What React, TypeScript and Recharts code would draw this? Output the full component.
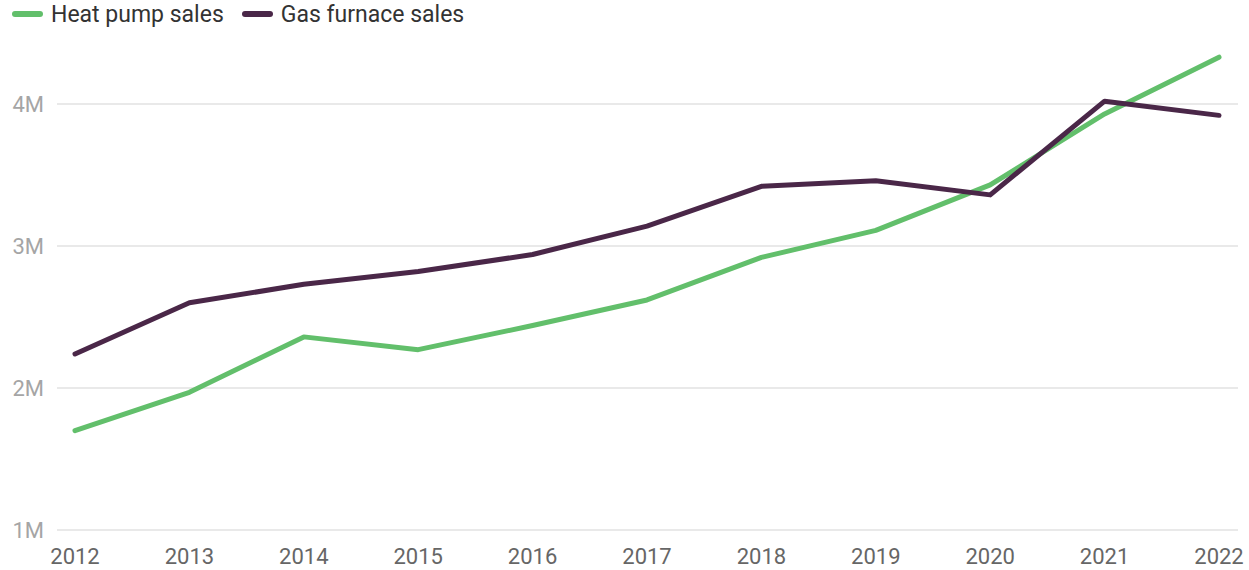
import React from "react";
import { LineChart, Line, XAxis, YAxis, ReferenceLine } from "recharts";

const years = ["2012", "2013", "2014", "2015", "2016", "2017", "2018", "2019", "2020", "2021", "2022"];
const heatPump = [1700000, 1970000, 2360000, 2270000, 2440000, 2620000, 2920000, 3110000, 3430000, 3930000, 4330000];
const gasFurnace = [2240000, 2600000, 2730000, 2820000, 2940000, 3140000, 3420000, 3460000, 3360000, 4020000, 3920000];
const yTicks = [1000000, 2000000, 3000000, 4000000];

const GREEN = "#62bf6b";
const PURPLE = "#4a2748";

const data = years.map((y, i) => ({ year: y, heat: heatPump[i], gas: gasFurnace[i] }));

const fmt = (v: number) => `${v / 1000000}M`;

export default function App() {
  return (
    <div style={{ position: "absolute", left: 0, top: 0, width: 1249, height: 570, background: "#fff", fontFamily: "Roboto, sans-serif" }}>
      <div style={{ position: "absolute", left: 0, top: 0, height: 28, display: "flex", alignItems: "center", fontSize: 23, color: "#333", whiteSpace: "nowrap" }}>
        <span style={{ display: "inline-block", width: 31, height: 6, borderRadius: 3, background: GREEN, marginLeft: 12, marginRight: 8 }} />
        <span>Heat pump sales</span>
        <span style={{ display: "inline-block", width: 31, height: 6, borderRadius: 3, background: PURPLE, marginLeft: 18, marginRight: 8 }} />
        <span>Gas furnace sales</span>
      </div>
      <LineChart width={1249} height={570} data={data} margin={{ top: 33, right: 11, bottom: 0, left: 0 }}>
        {yTicks.map((t) => (
          <ReferenceLine key={t} y={t} stroke="#e2e2e2" strokeWidth={1.5} />
        ))}
        <XAxis
          dataKey="year"
          axisLine={false}
          tickLine={false}
          tickSize={0}
          tickMargin={18}
          height={40}
          padding={{ left: 18, right: 19 }}
          interval={0}
          tick={{ fill: "#666", fontSize: 22, fontFamily: "Roboto, sans-serif" }}
        />
        <YAxis
          type="number"
          domain={[1000000, 4500000]}
          ticks={yTicks}
          tickFormatter={fmt}
          axisLine={false}
          tickLine={false}
          tickSize={0}
          tickMargin={13}
          width={57}
          tick={{ fill: "#a5a5a5", fontSize: 22, fontFamily: "Roboto, sans-serif" }}
        />
        <Line type="linear" dataKey="heat" stroke={GREEN} strokeWidth={5} dot={false} activeDot={false} isAnimationActive={false} strokeLinecap="round" strokeLinejoin="round" />
        <Line type="linear" dataKey="gas" stroke={PURPLE} strokeWidth={5} dot={false} activeDot={false} isAnimationActive={false} strokeLinecap="round" strokeLinejoin="round" />
      </LineChart>
    </div>
  );
}
